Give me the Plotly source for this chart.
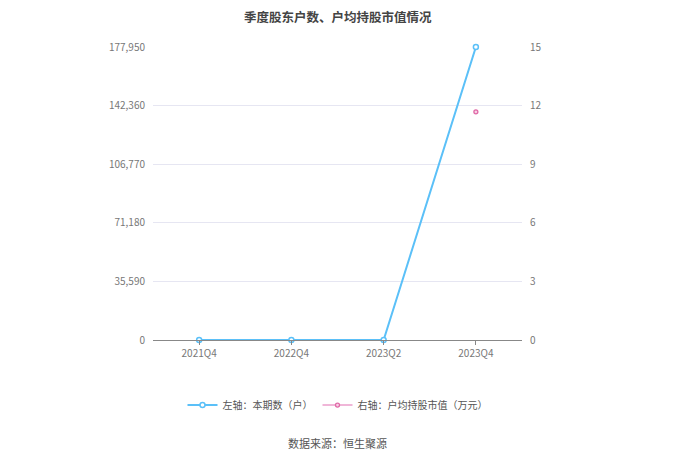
import plotly.graph_objects as go

# data
quarters = ['2021Q4', '2022Q4', '2023Q2', '2023Q4']
holders = [0, 0, 0, 177950]           # left axis: 本期数（户）
avg_value = [None, None, None, 11.68]  # right axis: 户均持股市值（万元）
left_ticks = [0, 35590, 71180, 106770, 142360, 177950]
right_ticks = [0, 3, 6, 9, 12, 15]

font_family = 'Noto Sans CJK SC, Noto Sans, sans-serif'

fig = go.Figure()

fig.add_trace(go.Scatter(
    x=quarters, y=holders, name='左轴：本期数（户）',
    mode='lines+markers', cliponaxis=False,
    line=dict(color='#5bc0f8', width=2),
    marker=dict(size=5, color='white', line=dict(color='#5bc0f8', width=1.5)),
    yaxis='y'))

fig.add_trace(go.Scatter(
    x=quarters, y=avg_value, name='右轴：户均持股市值（万元）',
    mode='lines+markers', cliponaxis=False,
    line=dict(color='#f0b6d8', width=2),
    marker=dict(size=4, color='#f7d3e6', line=dict(color='#e06aa8', width=1.3)),
    yaxis='y2'))

# page body adds ~8px offset, margins compensate for it
fig.update_layout(
    width=680, height=460,
    paper_bgcolor='white', plot_bgcolor='white',
    margin=dict(l=145, r=166, t=39, b=128),
    font=dict(family=font_family, size=10, color='#666'),
    showlegend=True,
    legend=dict(orientation='h', x=0.5, xanchor='center',
                y=-0.222, yanchor='middle',
                font=dict(size=10, color='#555'),
                itemwidth=30),
    xaxis=dict(type='category', range=[-0.5, 3.5],
               showgrid=False, showline=True, linecolor='#888', linewidth=1,
               ticks='outside', ticklen=4, tickcolor='#888',
               tickfont=dict(size=10, color='#777')),
    yaxis=dict(range=[0, 177950], tickvals=left_ticks,
               tickformat=',', showgrid=True, gridcolor='#e6e6f2',
               zeroline=False, showline=False,
               ticks='outside', ticklen=5, tickcolor='white',
               tickfont=dict(size=10, color='#777')),
    yaxis2=dict(range=[0, 15], tickvals=right_ticks,
                overlaying='y', side='right', showgrid=False,
                zeroline=False, showline=False,
                ticks='outside', ticklen=5, tickcolor='white',
                tickfont=dict(size=10, color='#777')),
    annotations=[
        dict(text='<b>季度股东户数、户均持股市值情况</b>', xref='paper', yref='paper',
             x=0.5, y=1.105, xanchor='center', yanchor='middle',
             showarrow=False, font=dict(size=12.5, color='#444')),
        dict(text='数据来源：恒生聚源', xref='paper', yref='paper',
             x=0.5, y=-0.352, xanchor='center', yanchor='middle',
             showarrow=False, font=dict(size=11, color='#555')),
    ],
)

fig.write_html('out.html')
